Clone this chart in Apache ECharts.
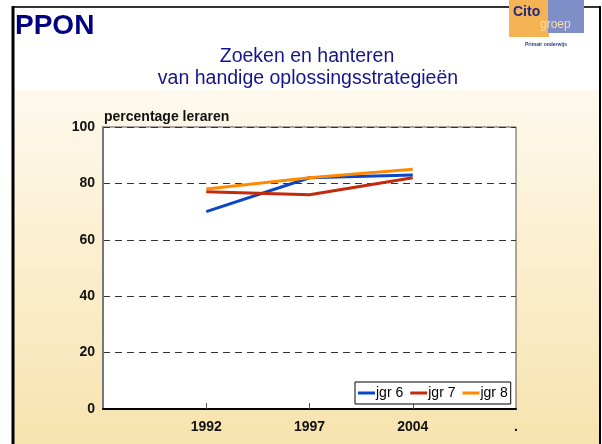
<!DOCTYPE html>
<html>
<head>
<meta charset="utf-8">
<script src="https://cdn.jsdelivr.net/npm/echarts@6/dist/echarts.min.js"></script>
<style>
html, body { margin: 0; padding: 0; background: #fff; }
#chart { width: 602px; height: 444px; }
</style>
</head>
<body>
<div id="chart"></div>
<script>
var chart = echarts.init(document.getElementById("chart"));

// x categories (first and last are empty ends of the axis)
var years = ["1992", "1997", "2004"];
var categories = [""].concat(years, ["."]);
var yTicks = [0, 20, 40, 60, 80, 100];

var seriesNames = ["jgr 6", "jgr 7", "jgr 8"];
var jgr6 = [70, 82, 83];
var jgr7 = [77, 76, 82];
var jgr8 = [78, 82, 85];
var colors = ["#0a46c8", "#c42a0c", "#ff8a00"];

function pad(vals) {
	return [null].concat(vals, [null]);
}

var font = "Arial, 'Liberation Sans', sans-serif";

var option = {
	backgroundColor: "#fff",
	animation: false,
	graphic: [
		// beige slide background
		{ type: "rect", shape: { x: 14, y: 90, width: 586, height: 354 }, z: -10,
		  style: { fill: new echarts.graphic.LinearGradient(0, 0, 0, 1, [
			{ offset: 0, color: "#fef9ee" },
			{ offset: 0.4, color: "#fcf0d3" },
			{ offset: 1, color: "#f7e3ae" }
		  ]) } },
		// frame
		{ type: "line", shape: { x1: 13, y1: 7, x2: 600, y2: 7 }, style: { stroke: "#333", lineWidth: 2 } },
		{ type: "line", shape: { x1: 13, y1: 6, x2: 13, y2: 444 }, style: { stroke: "#000", lineWidth: 3 } },
		{ type: "line", shape: { x1: 600, y1: 6, x2: 600, y2: 444 }, style: { stroke: "#000", lineWidth: 2 } },
		// logo
		{ type: "rect", shape: { x: 509, y: 0, width: 40, height: 37 }, style: { fill: "#f6b354" } },
		{ type: "rect", shape: { x: 548, y: 0, width: 36, height: 33 }, style: { fill: "#7d8fc6" } },
		{ type: "text", x: 513, y: 19, style: { text: "Cito", font: "bold 14px " + font, fill: "#1d2a86", textVerticalAlign: "bottom" } },
		{ type: "text", x: 540, y: 31, style: { text: "groep", font: "12px " + font, fill: "#f7dcb8", textVerticalAlign: "bottom" } },
		{ type: "text", x: 546, y: 45, style: { text: "Primair onderwijs", font: "bold 5px " + font, fill: "#2a3a8e", textAlign: "center", textVerticalAlign: "middle" } },
		// titles
		{ type: "text", x: 15, y: 40, style: { text: "PPON", font: "bold 28px " + font, fill: "#000080", textVerticalAlign: "bottom" } },
		{ type: "text", x: 307, y: 57, style: { text: "Zoeken en hanteren", font: "19.5px " + font, fill: "#14148c", textAlign: "center", textVerticalAlign: "middle" } },
		{ type: "text", x: 308, y: 79, style: { text: "van handige oplossingsstrategieën", font: "19.5px " + font, fill: "#14148c", textAlign: "center", textVerticalAlign: "middle" } },
		{ type: "text", x: 104, y: 117, style: { text: "percentage leraren", font: "bold 14px " + font, fill: "#111", textVerticalAlign: "middle" } }
	],
	legend: {
		data: seriesNames,
		left: 355,
		top: 382,
		backgroundColor: "#fff",
		borderColor: "#000",
		borderWidth: 1,
		borderRadius: 0,
		padding: [4, 3, 4, 3],
		itemGap: 7,
		itemWidth: 17,
		itemHeight: 3,
		icon: "rect",
		textStyle: { fontFamily: font, fontSize: 14, color: "#000", padding: [0, 0, 0, -4] }
	},
	grid: {
		left: 103,
		right: 86,
		top: 127,
		bottom: 35,
		show: true,
		backgroundColor: "#fff",
		borderColor: "#555",
		borderWidth: 1
	},
	xAxis: {
		type: "category",
		data: categories,
		boundaryGap: false,
		axisLine: { lineStyle: { color: "#000", width: 2 } },
		axisTick: {
			inside: true,
			length: 6,
			lineStyle: { color: "#555" },
			interval: function(i) { return i > 0 && i < categories.length - 1; }
		},
		axisLabel: {
			interval: 0,
			margin: 11,
			fontFamily: font,
			fontSize: 14,
			fontWeight: "bold",
			color: "#111"
		},
		splitLine: { show: false }
	},
	yAxis: {
		type: "value",
		min: 0,
		max: 100,
		interval: 20,
		axisLine: { show: true, lineStyle: { color: "#777", width: 2 } },
		axisTick: { show: false },
		axisLabel: {
			margin: 8,
			fontFamily: font,
			fontSize: 14,
			fontWeight: "bold",
			color: "#111",
			formatter: function(v) { return yTicks.indexOf(v) >= 0 ? String(v) : ""; }
		},
		splitLine: { lineStyle: { color: "#333", type: [7, 5], width: 1 } }
	},
	series: [jgr6, jgr7, jgr8].map(function(vals, i) {
		return {
			name: seriesNames[i],
			type: "line",
			data: pad(vals),
			symbol: "none",
			color: colors[i],
			lineStyle: { width: 3, color: colors[i] }
		};
	})
};

chart.setOption(option);
</script>
</body>
</html>
